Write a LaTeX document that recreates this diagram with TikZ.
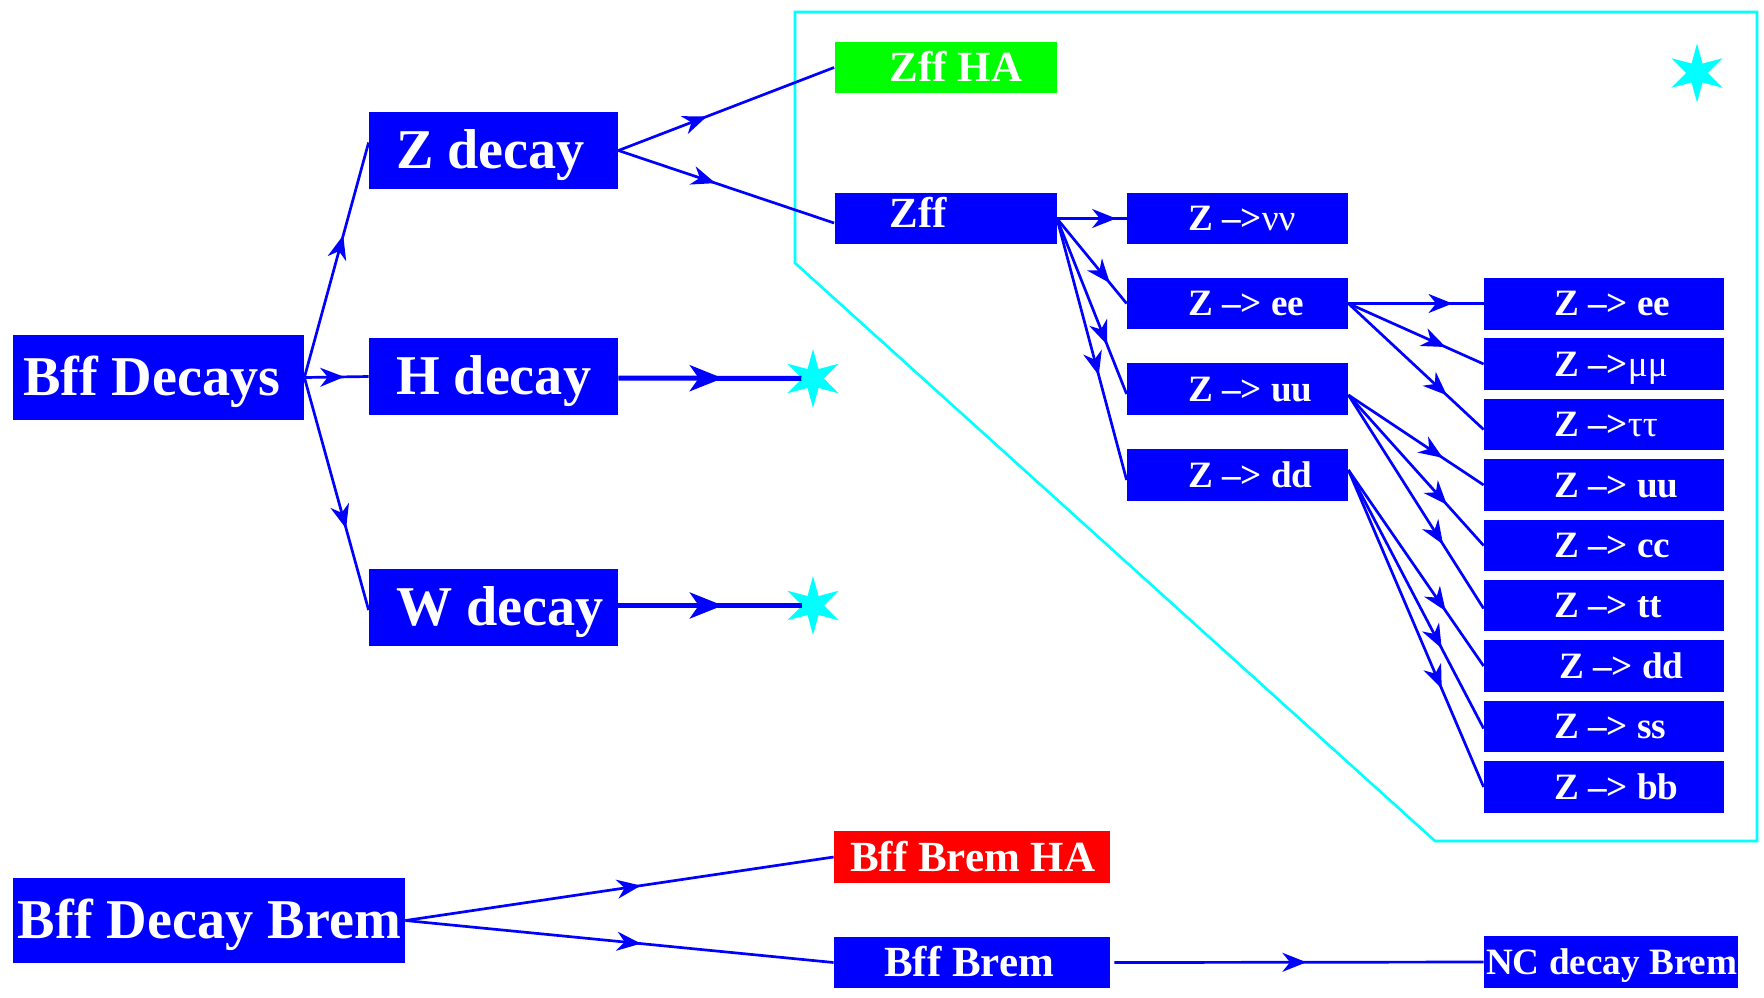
\documentclass[tikz,border=0pt]{standalone}
\usepackage{fontspec}
\setmainfont{Liberation Serif}
\usetikzlibrary{arrows.meta,decorations.markings,shapes.geometric,calc}
\definecolor{pblue}{RGB}{0,0,255}
\definecolor{pgreen}{RGB}{0,255,0}
\definecolor{pred}{RGB}{255,0,0}
\definecolor{pcyan}{RGB}{0,255,255}
\newcommand{\bt}[2]{\makebox[#1][l]{#2}}
\begin{document}
\begin{tikzpicture}[x=0.5pt,y=-0.5pt,
  box/.style={fill=pblue, draw=none, text=white, inner ysep=0pt, text depth=0pt},
  bigf/.style={font=\fontsize{28.1}{30}\selectfont\bfseries, text height=18.4pt},
  midf/.style={font=\fontsize{21.5}{24}\selectfont\bfseries, text height=14.1pt},
  smallf/.style={font=\fontsize{18.6}{22}\selectfont\bfseries, text height=12.2pt},
  cstar/.style={star, star points=6, star point ratio=2.7, fill=pcyan, draw=none, minimum size=29.5pt, inner sep=0pt},
  conn/.style={draw=pblue, color=pblue, line width=1.35pt},
  thk/.style={draw=pblue, color=pblue, line width=2.5pt},
  ar/.style={postaction={decorate}, decoration={markings, mark=at position #1 with {\arrow{Stealth[length=12pt,width=9.5pt,inset=3.8pt]}}}},
  bar/.style={postaction={decorate}, decoration={markings, mark=at position #1 with {\arrow{Stealth[length=16.5pt,width=13pt,inset=4.5pt]}}}}
]
\useasboundingbox (0,0) rectangle (1764,997);

% cyan frame
\draw[pcyan, line width=1.3pt] (795,12) -- (1757,12) -- (1757,841) -- (1435,841) -- (795,263) -- cycle;

% big boxes
\node[box,bigf,minimum height=42.5pt,inner xsep=5pt] (bffd) at (158.5,377.5) {\bt{135.5pt}{Bff Decays}};
\node[box,bigf,minimum height=38.5pt,inner xsep=13.5pt] (zdec) at (493.5,150.5) {\bt{97.5pt}{Z decay}};
\node[box,bigf,minimum height=38.5pt,inner xsep=13.5pt] (hdec) at (493.5,376.5) {\bt{97.5pt}{H decay}};
\node[box,bigf,minimum height=38.5pt,inner xsep=13.5pt] (wdec) at (493.5,607.5) {\bt{97.5pt}{W decay}};
\node[box,bigf,minimum height=42.5pt,inner xsep=2.5pt] (bffdb) at (209,920.5) {\bt{191pt}{Bff Decay Brem}};

% medium boxes
\node[box,midf,fill=pgreen,minimum height=25.5pt,inner xsep=27.5pt] (zffha) at (945.5,67.5) {\bt{56pt}{Zff HA}};
\node[box,midf,minimum height=25.5pt,inner xsep=27.5pt,text depth=5.5pt] (zff) at (945.5,218.5) {\bt{56pt}{Zff}};
\node[box,midf,fill=pred,minimum height=26pt,inner xsep=8pt] (bbha) at (972,857) {\bt{122pt}{Bff Brem HA}};
\node[box,midf,minimum height=25.5pt,inner xsep=25pt] (bb) at (972,962.5) {\bt{88pt}{Bff Brem}};

% middle column
\node[box,smallf,minimum height=25.5pt,inner xsep=30.5pt] (znn) at (1237.5,218.5) {\bt{49.5pt}{Z –>{\mdseries νν}}};
\node[box,smallf,minimum height=25.5pt,inner xsep=30.5pt] (zee) at (1237.5,303.5) {\bt{49.5pt}{Z –> ee}};
\node[box,smallf,minimum height=26pt,inner xsep=30.5pt] (zuu) at (1237.5,389) {\bt{49.5pt}{Z –> uu}};
\node[box,smallf,minimum height=26pt,inner xsep=30.5pt] (zdd) at (1237.5,475) {\bt{49.5pt}{Z –> dd}};

% right column
\node[box,smallf,minimum height=26pt,inner xsep=35pt] (ree) at (1604,303.5) {\bt{50pt}{Z –> ee}};
\node[box,smallf,minimum height=26pt,inner xsep=35pt] (rmm) at (1604,364) {\bt{50pt}{Z –>{\mdseries μμ}}};
\node[box,smallf,minimum height=25.5pt,inner xsep=35pt] (rtau) at (1604,424.5) {\bt{50pt}{Z –>{\mdseries ττ}}};
\node[box,smallf,minimum height=26pt,inner xsep=35pt] (ruu) at (1604,485) {\bt{50pt}{Z –> uu}};
\node[box,smallf,minimum height=25.5pt,inner xsep=35pt] (rcc) at (1604,545.5) {\bt{50pt}{Z –> cc}};
\node[box,smallf,minimum height=25.5pt,inner xsep=35pt] (rtt) at (1604,605.5) {\bt{50pt}{Z –> tt}};
\node[box,smallf,minimum height=26pt,inner xsep=35pt] (rdd) at (1604,666) {\bt{50pt}{\hspace{2.5pt}Z –> dd}};
\node[box,smallf,minimum height=25.5pt,inner xsep=35pt] (rss) at (1604,726.5) {\bt{50pt}{Z –> ss}};
\node[box,smallf,minimum height=26pt,inner xsep=35pt] (rbb) at (1604,787) {\bt{50pt}{Z –> bb}};

\node[box,smallf,minimum height=26pt,inner xsep=1pt] (nc) at (1611,962) {\bt{125pt}{NC decay Brem}};

% stars
\node[cstar] (st1) at (813,378.5) {};
\node[cstar] (st2) at (813,605.5) {};
\node[cstar] (st3) at (1697,73) {};

% connectors
\draw[conn,ar=0.605] (bffd.east) -- ($(zdec.west)+(0,-8)$);
\draw[conn,ar=0.62] (bffd.east) -- (hdec.west);
\draw[conn,ar=0.65] (bffd.east) -- ($(wdec.west)+(0,2.5)$);
\draw[conn,ar=0.41] (zdec.east) -- (zffha.west);
\draw[conn,ar=0.45] (zdec.east) -- ($(zff.west)+(0,4.5)$);
\draw[thk,bar=0.57] ($(hdec.east)+(0,1.5)$) -- (st1);
\draw[thk,bar=0.57] ($(wdec.east)+(0,-2)$) -- (st2);
\draw[conn,ar=0.85] (zff.east) -- (znn.west);
\draw[conn,ar=0.76] (zff.east) -- (zee.west);
\draw[conn,ar=0.72] (zff.east) -- ($(zuu.west)+(0,5)$);
\draw[conn,ar=0.60] (zff.east) -- ($(zdd.west)+(0,5)$);
\draw[conn,ar=0.77] (zee.east) -- (ree.west);
\draw[conn,ar=0.72] (zee.east) -- (rmm.west);
\draw[conn,ar=0.73] (zee.east) -- ($(rtau.west)+(0,5)$);
\draw[conn,ar=0.70] ($(zuu.east)+(0,6)$) -- (ruu.west);
\draw[conn,ar=0.73] ($(zuu.east)+(0,6)$) -- (rcc.west);
\draw[conn,ar=0.70] ($(zuu.east)+(0,6)$) -- ($(rtt.west)+(0,3)$);
\draw[conn,ar=0.72] ($(zdd.east)+(0,-5)$) -- (rdd.west);
\draw[conn,ar=0.69] ($(zdd.east)+(0,-5)$) -- ($(rss.west)+(0,2)$);
\draw[conn,ar=0.69] ($(zdd.east)+(0,-5)$) -- (rbb.west);
\draw[conn,ar=0.55] (bffdb.east) -- (bbha.west);
\draw[conn,ar=0.55] (bffdb.east) -- (bb.west);
\draw[conn,ar=0.52] ($(bb.east)+(4,0)$) -- (nc.west);
\end{tikzpicture}
\end{document}
